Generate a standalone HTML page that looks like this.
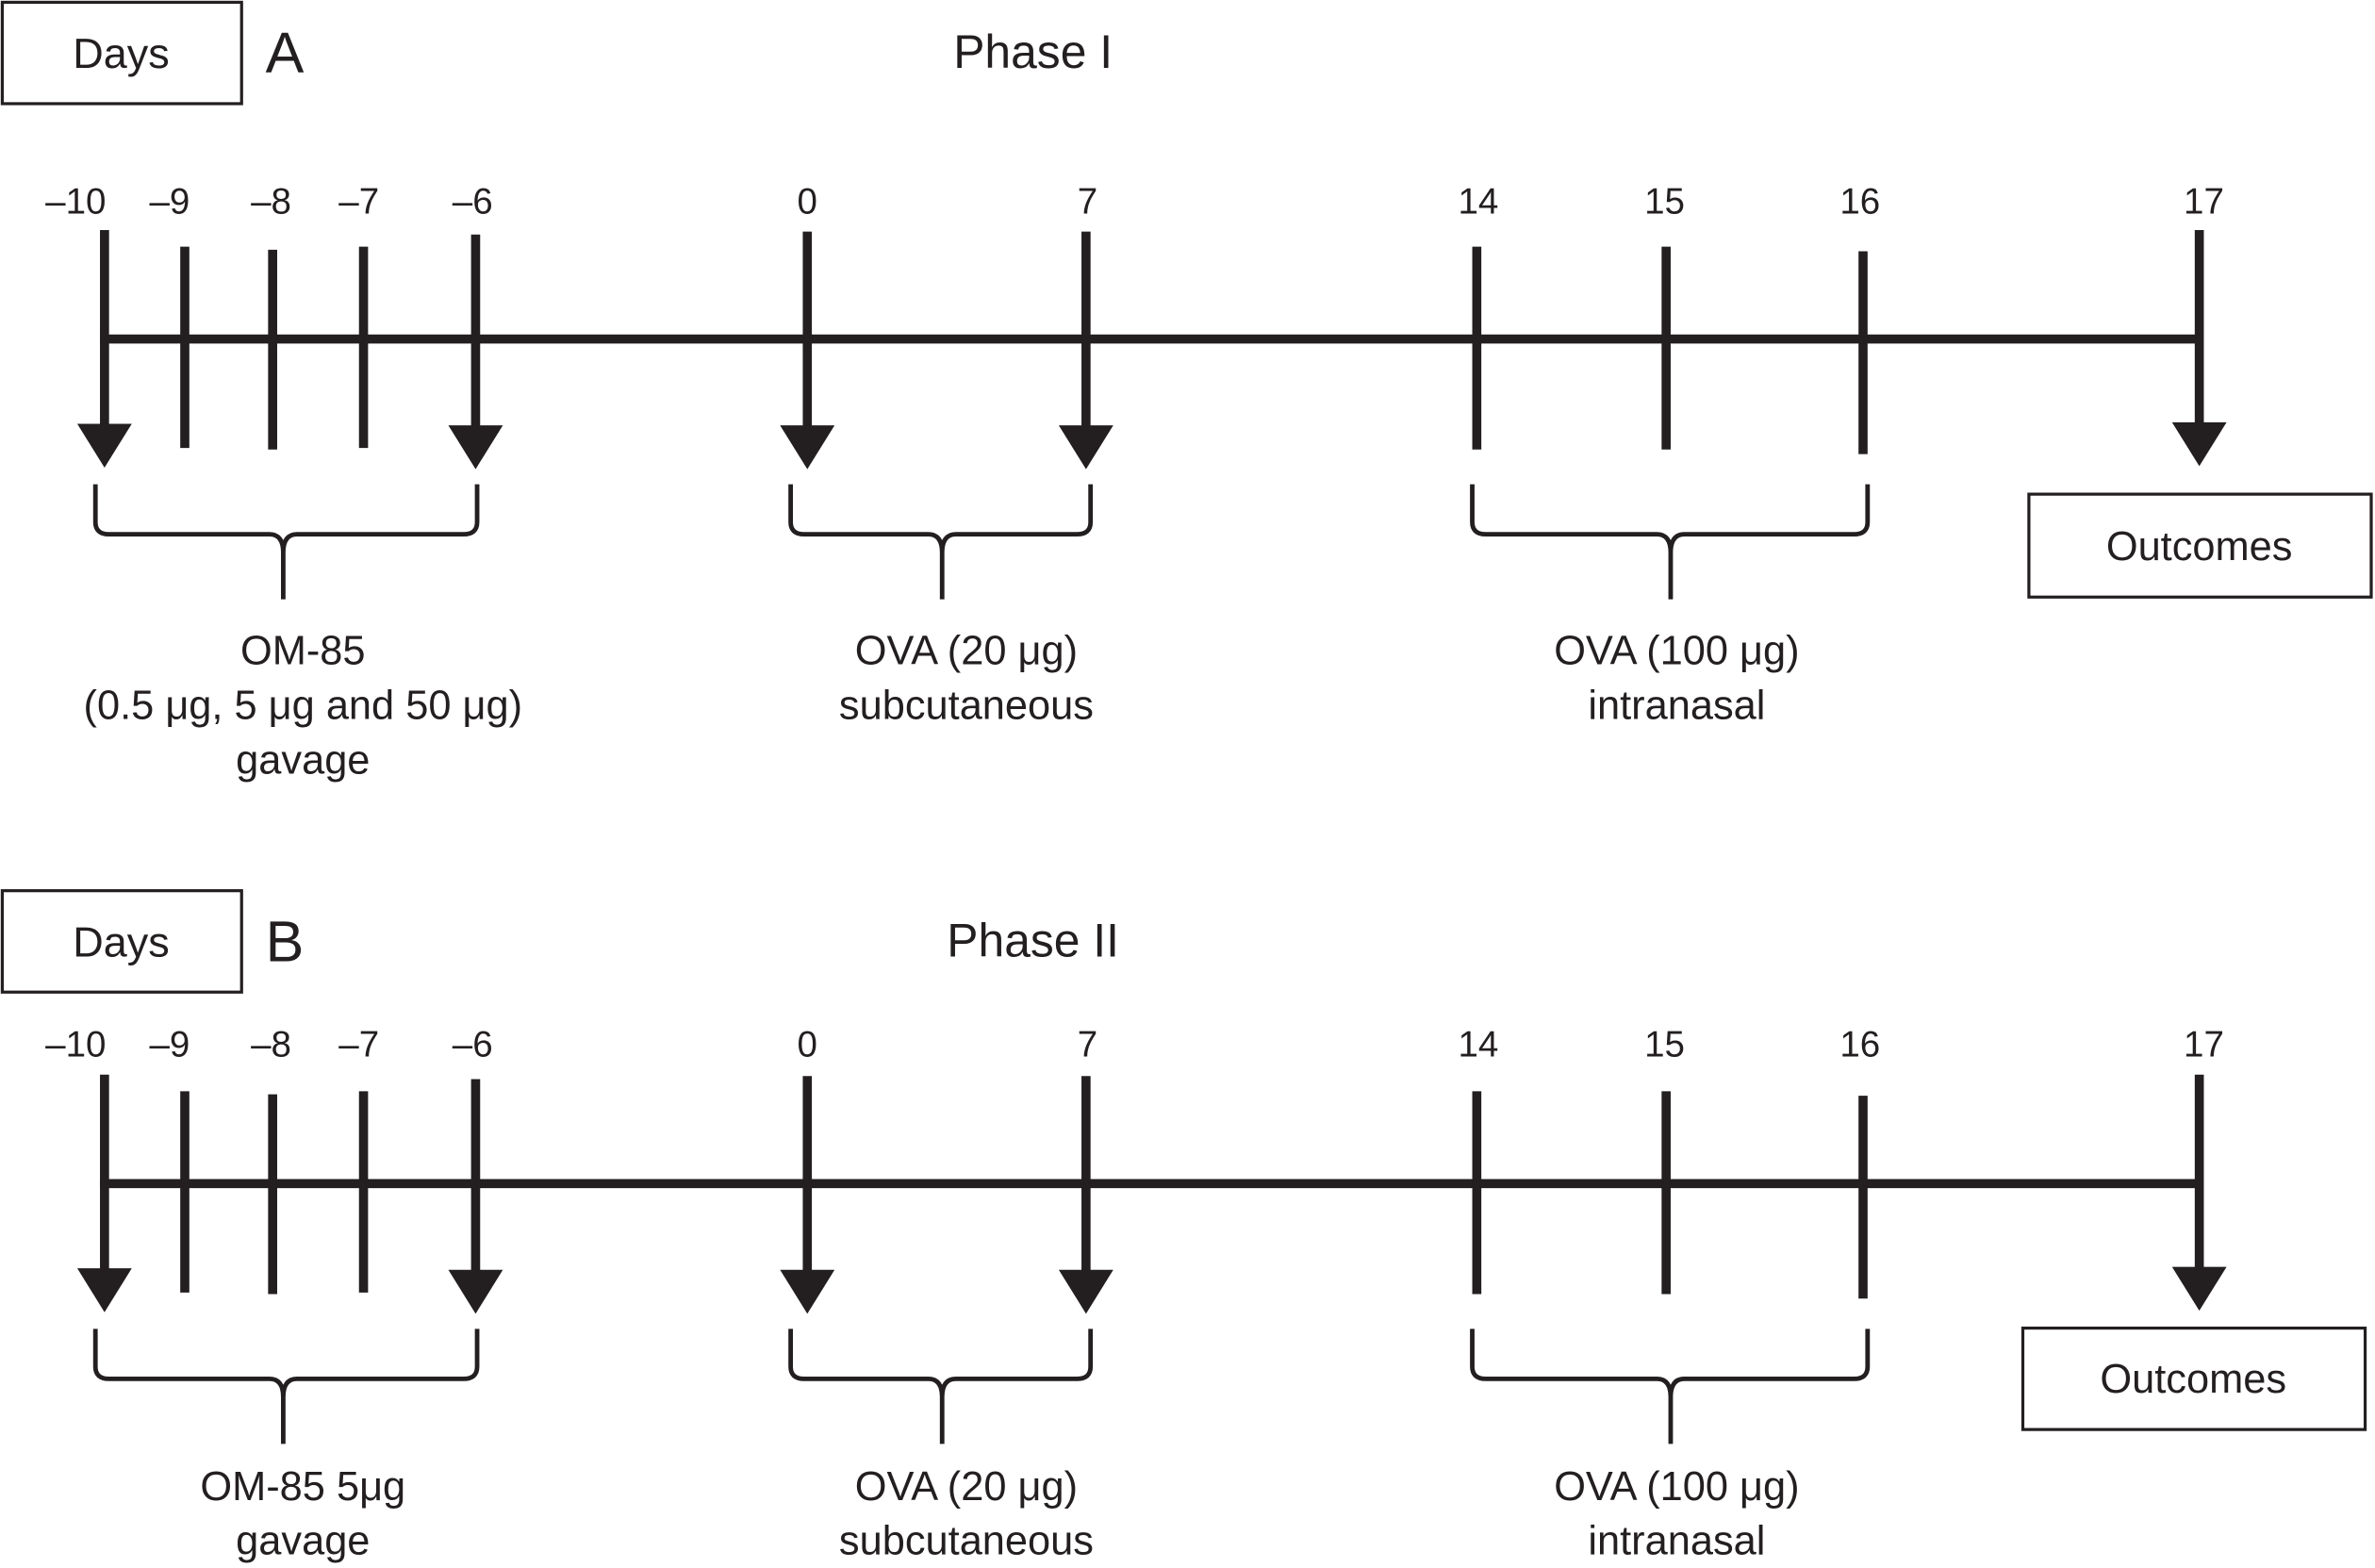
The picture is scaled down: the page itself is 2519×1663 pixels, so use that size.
<!DOCTYPE html>
<html><head><meta charset="utf-8"><style>html,body{margin:0;padding:0;background:#fff}svg{display:block}</style></head>
<body>
<svg width="2519" height="1663" viewBox="0 0 1568 1036" preserveAspectRatio="none" xmlns="http://www.w3.org/2000/svg" font-family="Liberation Sans, Arial, sans-serif" fill="#231f20">
<defs>
<g id="tl" stroke="#231f20" stroke-width="6" fill="none">
  <line x1="66" y1="224" x2="1452" y2="224"/>
  <line x1="69" y1="152" x2="69" y2="284"/>
  <line x1="314" y1="155" x2="314" y2="284"/>
  <line x1="533" y1="153" x2="533" y2="284"/>
  <line x1="717" y1="153" x2="717" y2="284"/>
  <line x1="1452" y1="152" x2="1452" y2="282"/>
  <line x1="122" y1="163" x2="122" y2="296"/>
  <line x1="180" y1="165" x2="180" y2="297"/>
  <line x1="240" y1="163" x2="240" y2="296"/>
  <line x1="975" y1="163" x2="975" y2="297"/>
  <line x1="1100" y1="163" x2="1100" y2="297"/>
  <line x1="1230" y1="166" x2="1230" y2="300"/>
  <g stroke-width="3">
   <path d="M63 320 V345 Q63 353 72 353 H178 Q187 353 187 365 V396 M187 365 Q187 353 196 353 H306 Q315 353 315 345 V320"/>
   <path d="M522 320 V345 Q522 353 531 353 H613 Q622 353 622 365 V396 M622 365 Q622 353 631 353 H711 Q720 353 720 345 V320"/>
   <path d="M972 320 V345 Q972 353 981 353 H1094 Q1103 353 1103 365 V396 M1103 365 Q1103 353 1112 353 H1224 Q1233 353 1233 345 V320"/>
  </g>
 </g>
<g id="heads" fill="#231f20">
  <polygon points="51,280 87,280 69,309"/>
  <polygon points="296,281 332,281 314,310"/>
  <polygon points="515,281 551,281 533,310"/>
  <polygon points="699,281 735,281 717,310"/>
  <polygon points="1434,279 1470,279 1452,308"/>
 </g>
<g id="nums" font-size="24" text-anchor="middle">
  <text x="50" y="141">–10</text><text x="112" y="141">–9</text><text x="179" y="141">–8</text>
  <text x="237" y="141">–7</text><text x="312" y="141">–6</text><text x="533" y="141">0</text>
  <text x="718" y="141">7</text><text x="976" y="141">14</text><text x="1099" y="141">15</text>
  <text x="1228" y="141">16</text><text x="1455" y="141">17</text>
 </g>
</defs>

<!-- Panel A -->
<rect x="1.5" y="1.5" width="158" height="67" fill="none" stroke="#231f20" stroke-width="2"/>
<text x="80" y="45" font-size="28" text-anchor="middle">Days</text>
<text x="188" y="48" font-size="38" text-anchor="middle">A</text>
<text x="682" y="45" font-size="31" text-anchor="middle">Phase I</text>
<use href="#tl"/><use href="#heads"/><use href="#nums"/>
<rect x="1339.5" y="326.5" width="226" height="68" fill="none" stroke="#231f20" stroke-width="2"/>
<text x="1452" y="370" font-size="27" text-anchor="middle">Outcomes</text>
<g font-size="27" text-anchor="middle">
 <text x="200" y="439">OM-85</text>
 <text x="200" y="475">(0.5 μg, 5 μg and 50 μg)</text>
 <text x="200" y="511">gavage</text>
 <text x="638" y="439">OVA (20 μg)</text>
 <text x="638" y="475">subcutaneous</text>
 <text x="1107" y="439">OVA (100 μg)</text>
 <text x="1107" y="475">intranasal</text>
</g>

<!-- Panel B -->
<rect x="1.5" y="588.5" width="158" height="67" fill="none" stroke="#231f20" stroke-width="2"/>
<text x="80" y="632" font-size="28" text-anchor="middle">Days</text>
<text x="188" y="635" font-size="38" text-anchor="middle">B</text>
<text x="682" y="632" font-size="31" text-anchor="middle">Phase II</text>
<g transform="translate(0,558)"><use href="#tl"/><use href="#heads"/></g>
<g transform="translate(0,557)"><use href="#nums"/></g>
<rect x="1335.5" y="877.5" width="226" height="67" fill="none" stroke="#231f20" stroke-width="2"/>
<text x="1448" y="920" font-size="27" text-anchor="middle">Outcomes</text>
<g font-size="27" text-anchor="middle">
 <text x="200" y="991">OM-85 5μg</text>
 <text x="200" y="1027">gavage</text>
 <text x="638" y="991">OVA (20 μg)</text>
 <text x="638" y="1027">subcutaneous</text>
 <text x="1107" y="991">OVA (100 μg)</text>
 <text x="1107" y="1027">intranasal</text>
</g>
</svg>
</body></html>
